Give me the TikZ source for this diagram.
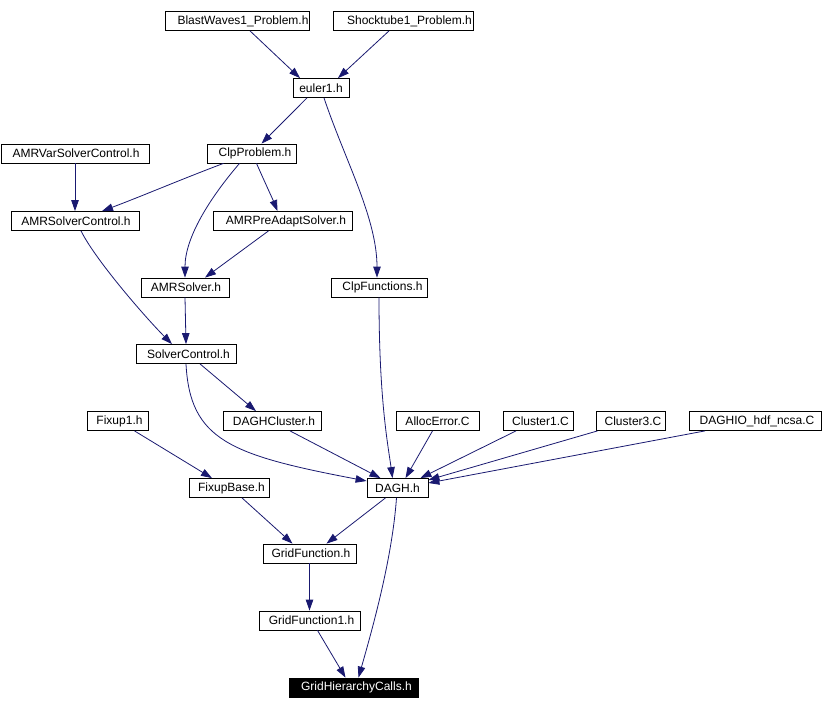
\documentclass[tikz,border=0pt]{standalone}
\usepackage{fontspec}
\setmainfont{Liberation Sans}
\usetikzlibrary{arrows.meta}
\definecolor{edgeblue}{RGB}{25,25,112}
\newcommand{\pushr}[1]{\hspace*{#1pt}}
\begin{document}
\begin{tikzpicture}[x=1pt,y=-1pt,
  box/.style={draw=black,line width=0.8pt,fill=white,inner sep=0pt,minimum height=19pt,
    font=\fontsize{12}{14}\selectfont,anchor=center},
  rootbox/.style={box,fill=black,draw=black,text=white},
  edge/.style={draw=edgeblue,line width=0.8pt,-{Triangle[length=11pt,width=7.5pt]}}]
\useasboundingbox (0,0) rectangle (822,709);
% nodes
\node[box,minimum width=144pt] (bw) at (237,21) {\pushr{12}BlastWaves1\_Problem.h};
\node[box,minimum width=140pt] (st) at (403,21) {\pushr{13}Shocktube1\_Problem.h};
\node[box,minimum width=56pt] (eu) at (321,88) {euler1.h};
\node[box,minimum width=148pt] (avs) at (75,153.5) {\pushr{2}AMRVarSolverControl.h};
\node[box,minimum width=89pt] (clpp) at (251.5,153.5) {\pushr{7}ClpProblem.h};
\node[box,minimum width=128pt] (asc) at (75,221) {\pushr{2}AMRSolverControl.h};
\node[box,minimum width=139pt] (apas) at (282.5,221) {\pushr{7}AMRPreAdaptSolver.h};
\node[box,minimum width=88pt] (asol) at (185,287.5) {\pushr{2}AMRSolver.h};
\node[box,minimum width=96pt] (clpf) at (379,287.5) {\pushr{7}ClpFunctions.h};
\node[box,minimum width=100pt] (sctl) at (186,354) {\pushr{5}SolverControl.h};
\node[box,minimum width=61pt] (fx1) at (117.5,421) {\pushr{4}Fixup1.h};
\node[box,minimum width=98pt] (dclu) at (272,421) {\pushr{4}DAGHCluster.h};
\node[box,minimum width=83pt] (alloc) at (437.5,421) {AllocError.C};
\node[box,minimum width=70pt] (cl1) at (538,421) {\pushr{5}Cluster1.C};
\node[box,minimum width=69pt] (cl3) at (630.5,421) {\pushr{5}Cluster3.C};
\node[box,minimum width=132pt] (dio) at (755,421) {\pushr{4}DAGHIO\_hdf\_ncsa.C};
\node[box,minimum width=80pt] (fxb) at (229,488) {\pushr{5}FixupBase.h};
\node[box,minimum width=61pt] (dagh) at (397.5,488) {DAGH.h};
\node[box,minimum width=93pt] (gf) at (309.5,553.5) {\pushr{3}GridFunction.h};
\node[box,minimum width=101pt] (gf1) at (309.5,620.5) {\pushr{4}GridFunction1.h};
\node[rootbox,minimum width=129pt] (ghc) at (353.5,687.5) {\pushr{6}GridHierarchyCalls.h};
% edges
\draw[edge] ([xshift=13pt]bw.south) -- ([xshift=-21pt]eu.north);
\draw[edge] ([xshift=-14pt]st.south) -- ([xshift=17pt]eu.north);
\draw[edge] ([xshift=-14pt]eu.south) -- ([xshift=10pt]clpp.north);
\draw[edge] ([xshift=3pt]eu.south) .. controls +(20,60) and +(0,-60) .. ([xshift=-2pt]clpf.north);
\draw[edge] (avs.south) -- (asc.north);
\draw[edge] ([xshift=-28pt]clpp.south) .. controls +(-40,15) and +(40,-15) .. ([xshift=27pt]asc.north);
\draw[edge] ([xshift=-12pt]clpp.south) .. controls +(-30,35) and +(0,-40) .. (asol.north);
\draw[edge] ([xshift=5pt]clpp.south) .. controls +(8,18) and +(-4,-10) .. ([xshift=-5pt]apas.north);
\draw[edge] ([xshift=-14pt]apas.south) -- ([xshift=20pt]asol.north);
\draw[edge] ([xshift=6pt]asc.south) .. controls +(15,30) and +(-25,-25) .. ([xshift=-14pt]sctl.north);
\draw[edge] (asol.south) -- (sctl.north);
\draw[edge] ([xshift=14pt]sctl.south) -- ([xshift=-16pt]dclu.north);
\draw[edge] (sctl.south) .. controls (190,440) and (230,455) .. ([yshift=7pt]dagh.west);
\draw[edge] ([xshift=18pt]dclu.south) -- ([xshift=-17pt]dagh.north);
\draw[edge] (clpf.south) .. controls (379,400) and (388,445) .. ([xshift=-5pt]dagh.north);
\draw[edge] ([xshift=-5pt]alloc.south) -- ([xshift=8pt]dagh.north);
\draw[edge] ([xshift=-22pt]cl1.south) -- ([xshift=-8pt]dagh.north east);
\draw[edge] ([xshift=-33pt]cl3.south) -- ([yshift=8pt]dagh.east);
\draw[edge] ([xshift=-50pt]dio.south) -- ([yshift=5pt]dagh.east);
\draw[edge] ([xshift=17pt]fx1.south) -- ([xshift=-17pt]fxb.north);
\draw[edge] ([xshift=13pt]fxb.south) -- ([xshift=-17pt]gf.north);
\draw[edge] ([xshift=-12pt]dagh.south) -- ([xshift=17pt]gf.north);
\draw[edge] (gf.south) -- (gf1.north);
\draw[edge] ([xshift=8pt]gf1.south) -- ([xshift=-8pt]ghc.north);
\draw[edge] ([xshift=-1pt]dagh.south) .. controls (392,560) and (372,630) .. ([xshift=5pt]ghc.north);
\end{tikzpicture}
\end{document}
